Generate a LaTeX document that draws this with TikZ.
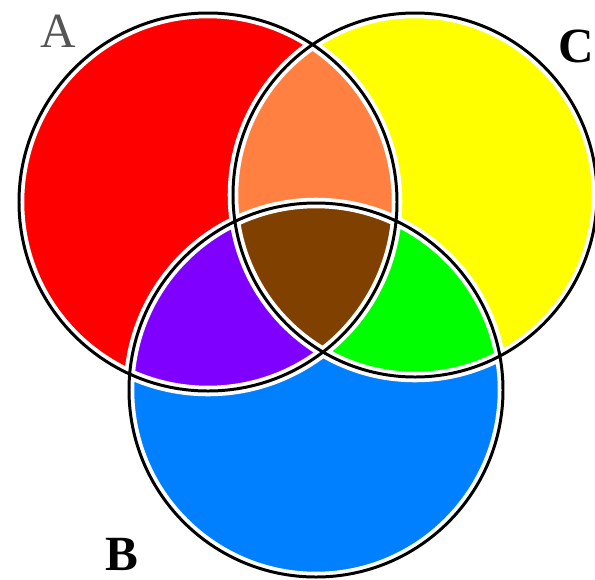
\documentclass[tikz,border=0pt]{standalone}
\usepackage{fontspec}
\setmainfont{Liberation Serif}
\usepackage{tikz}
\usetikzlibrary{positioning}
\definecolor{vnred}   {HTML}{FF0000}
\definecolor{vnyellow}{HTML}{FFFF00}
\definecolor{vnblue}  {HTML}{0080FF}
\definecolor{vnorange}{HTML}{FF8040}
\definecolor{vnpurple}{HTML}{8000FF}
\definecolor{vngreen} {HTML}{00FF00}
\definecolor{vnbrown} {HTML}{804000}
\definecolor{vngray}  {HTML}{555555}
\tikzset{
  vnring/.style={draw=black, line width=1.7pt},
  vngap/.style={draw=white, line width=6pt},
  vnlabel/.style={font=\fontsize{28}{28}\selectfont\bfseries, inner sep=0pt},
  vnthin/.style={vnlabel, font=\fontsize{28}{28}\selectfont, text=vngray},
}

\begin{document}
\begin{tikzpicture}[x=0.02cm,y=-0.02cm]
  \useasboundingbox (0,0) rectangle (595,579);
  \coordinate (cA) at (208,202);
  \coordinate (cB) at (316,390);
  \coordinate (cC) at (415,195);
  \def\ringA{(cA) circle[radius=189]}
  \def\ringB{(cB) circle[radius=187]}
  \def\ringC{(cC) circle[radius=182]}

  % single sets
  \fill[vnred] \ringA;
  \fill[vnyellow] \ringC;
  \fill[vnblue] \ringB;
  % pairs
  \begin{scope}
    \clip \ringA;
    \fill[vnorange] \ringC;
    \fill[vnpurple] \ringB;
  \end{scope}
  \begin{scope}
    \clip \ringB;
    \fill[vngreen] \ringC;
  \end{scope}
  % all three
  \begin{scope}
    \clip \ringA;
    \clip \ringB;
    \fill[vnbrown] \ringC;
  \end{scope}

  % white gaps, then the rings
  \draw[vngap] \ringA \ringB \ringC;
  \draw[vnring] \ringA \ringB \ringC;

  \node[vnthin] (labA) at (58,31) {A};
  \node[vnlabel] (labB) at (122,554) {B};
  \node[vnlabel] (labC) at (576,46) {C};
\end{tikzpicture}
\end{document}
